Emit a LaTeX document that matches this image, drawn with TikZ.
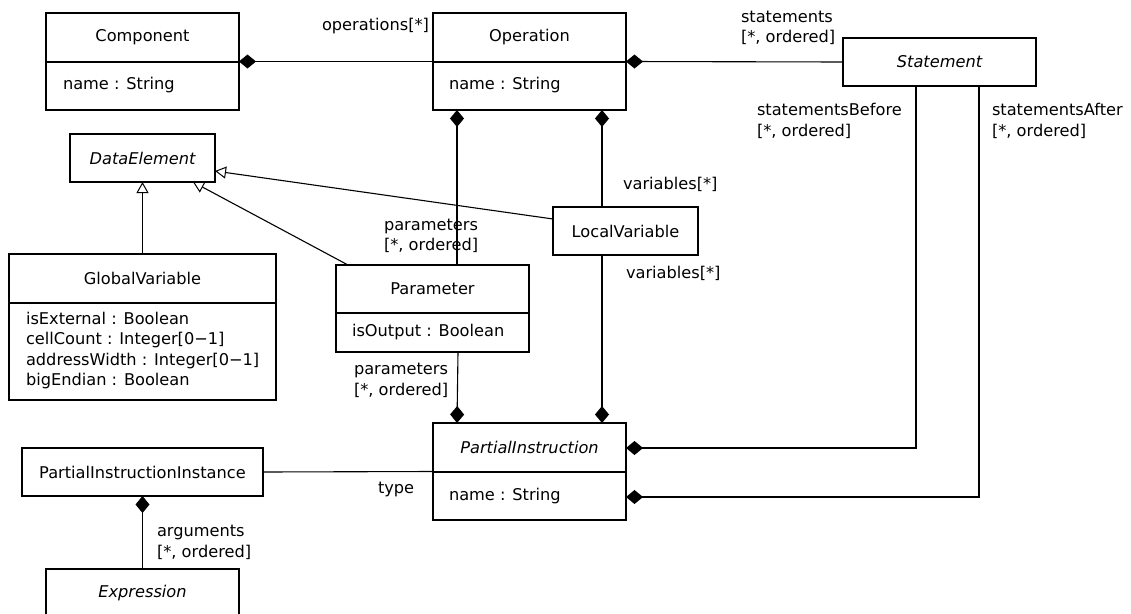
\documentclass[tikz,border=0pt]{standalone}
\usepackage{fontspec}
\setmainfont{DejaVu Sans}
\usetikzlibrary{arrows.meta}
\begin{document}
\begin{tikzpicture}[x=1pt,y=-1pt,
  font=\fontsize{16.2pt}{20.3pt}\selectfont,
  box/.style={draw, line width=1.1pt, inner sep=0pt, outer sep=0pt},
  txt/.style={inner sep=0pt, outer sep=0pt, align=left},
  conn/.style={line width=1.1pt},
  comp/.style={conn, {Diamond[length=17pt,width=14pt]}-},
  gen/.style={conn, -{Triangle[open,length=11pt,width=12pt,line width=1pt]}}
]
\useasboundingbox (0,0) rectangle (1131,613);

% classes
\node[box, minimum width=193pt, minimum height=97pt] (cmp) at (142.5,61.5) {};
\draw[line width=1.1pt] (46,62) -- (239,62);
\node[txt] (cmpH) at (142.5,37.5) {Component};
\node[txt, anchor=west] (cmpA) at (63,85) {name : String};

\node[box, minimum width=193pt, minimum height=97pt] (op) at (529.5,61.5) {};
\draw[line width=1.1pt] (433,62) -- (626,62);
\node[txt] (opH) at (529.5,37.5) {Operation};
\node[txt, anchor=west] (opA) at (449,85) {name : String};

\node[box, minimum width=193pt, minimum height=48pt] (st) at (939.5,62) {};
\node[txt] (stH) at (939.5,62) {\itshape Statement};

\node[box, minimum width=145pt, minimum height=48pt] (de) at (142.5,158) {};
\node[txt] (deH) at (142.5,158) {\itshape DataElement};

\node[box, minimum width=267pt, minimum height=146pt] (gv) at (142.5,327) {};
\draw[line width=1.1pt] (9,303) -- (276,303);
\node[txt] (gvH) at (142.5,278.5) {GlobalVariable};
\node[txt, anchor=west] (gvA) at (26,350.5) {isExternal : Boolean\\cellCount : Integer[0−1]\\addressWidth : Integer[0−1]\\bigEndian : Boolean};

\node[box, minimum width=193pt, minimum height=87pt] (par) at (432.5,308.5) {};
\draw[line width=1.1pt] (336,313) -- (529,313);
\node[txt] (parH) at (432.5,289) {Parameter};
\node[txt, anchor=west] (parA) at (352,332) {isOutput : Boolean};

\node[box, minimum width=145pt, minimum height=48pt] (lv) at (625.5,231) {};
\node[txt] (lvH) at (625.5,231) {LocalVariable};

\node[box, minimum width=193pt, minimum height=97pt] (pi) at (529.5,471.5) {};
\draw[line width=1.1pt] (433,472) -- (626,472);
\node[txt] (piH) at (529.5,447.5) {\itshape PartialInstruction};
\node[txt, anchor=west] (piA) at (449,496) {name : String};

\node[box, minimum width=241pt, minimum height=48pt] (pii) at (142.5,472) {};
\node[txt] (piiH) at (142.5,472) {PartialInstructionInstance};

\node[box, minimum width=193pt, minimum height=48pt] (ex) at (142.5,593) {};
\node[txt] (exH) at (142.5,593) {\itshape Expression};

% compositions
\draw[comp] (cmp.east) -- (op.west);
\draw[comp] (op.east) -- (st.west);
\draw[comp] ([xshift=-72.5pt]op.south) -- ([xshift=24.5pt]par.north);
\draw[comp] ([xshift=72.5pt]op.south) -- ([xshift=-23.5pt]lv.north);
\draw[comp] ([xshift=-72.5pt]pi.north) -- ([xshift=25.5pt]par.south);
\draw[comp] ([xshift=72.5pt]pi.north) -- ([xshift=-23.5pt]lv.south);
\draw[comp] ([yshift=23.5pt]pi.east) -| ([xshift=-23.5pt]st.south);
\draw[comp] ([yshift=-25.5pt]pi.east) -| ([xshift=39.5pt]st.south);
\draw[comp] (pii.south) -- (ex.north);
\draw[conn] (pii.east) -- (pi.west);

% generalizations
\draw[gen] (gv.north) -- (de.south);
\draw[gen] ([xshift=12pt]par.north west) -- ([xshift=50.5pt]de.south);
\draw[gen] ([yshift=12pt]lv.west) -- ([yshift=-13pt]de.east);

% role labels
\node[txt, anchor=east] (lOps) at (429,26) {operations[*]};
\node[txt, anchor=west] (lSt) at (741,28) {statements\\{}[*, ordered]};
\node[txt, anchor=west] (lPar1) at (384,236) {parameters\\{}[*, ordered]};
\node[txt, anchor=west] (lVar1) at (623,184) {variables[*]};
\node[txt, anchor=west] (lVar2) at (626,273) {variables[*]};
\node[txt, anchor=west] (lPar2) at (354,380.5) {parameters\\{}[*, ordered]};
\node[txt, anchor=west] (lSb) at (757,121) {statementsBefore\\{}[*, ordered]};
\node[txt, anchor=west] (lSa) at (992,121) {statementsAfter\\{}[*, ordered]};
\node[txt, anchor=west] (lType) at (378,489) {type};
\node[txt, anchor=west] (lArg) at (157,542.5) {arguments\\{}[*, ordered]};
\end{tikzpicture}
\end{document}
